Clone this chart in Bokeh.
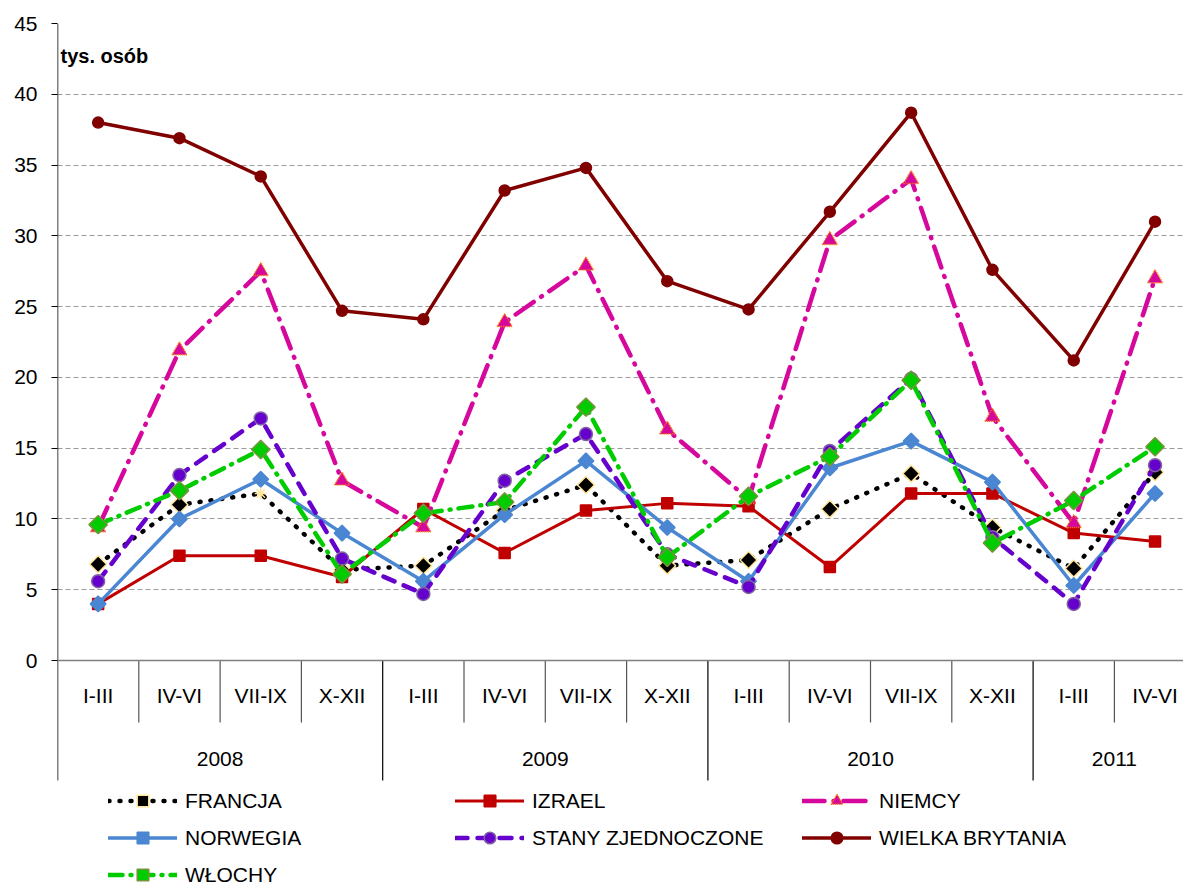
import math
from bokeh.plotting import figure
from bokeh.models import (Range1d, FixedTicker, Span, Label, Legend, LegendItem,
                          ColumnDataSource)
from bokeh.embed import file_html
from bokeh.resources import INLINE
from bokeh.core.properties import value

# ---------------- data ----------------
quarters = ["I-III", "IV-VI", "VII-IX", "X-XII",
            "I-III", "IV-VI", "VII-IX", "X-XII",
            "I-III", "IV-VI", "VII-IX", "X-XII",
            "I-III", "IV-VI"]
years = ["2008", "2009", "2010", "2011"]
year_counts = [4, 4, 4, 2]

francja = [6.8, 11.0, 11.8, 6.4, 6.7, 10.6, 12.4, 6.7, 7.1, 10.7, 13.2, 9.4, 6.5, 13.3]
izrael = [4.0, 7.4, 7.4, 5.9, 10.7, 7.6, 10.6, 11.1, 10.9, 6.6, 11.8, 11.8, 9.0, 8.4]
niemcy = [9.4, 21.9, 27.5, 12.7, 9.4, 23.9, 27.9, 16.3, 11.4, 29.7, 34.0, 17.2, 9.7, 27.0]
norwegia = [4.0, 10.0, 12.8, 9.0, 5.6, 10.3, 14.1, 9.4, 5.6, 13.6, 15.5, 12.6, 5.3, 11.8]
stany = [5.6, 13.1, 17.1, 7.2, 4.7, 12.7, 16.0, 7.5, 5.2, 14.8, 19.9, 8.7, 4.0, 13.8]
wielka_brytania = [38.0, 36.9, 34.2, 24.7, 24.1, 33.2, 34.8, 26.8, 24.8, 31.7, 38.7, 27.6, 21.2, 31.0]
wlochy = [9.6, 12.0, 14.9, 6.1, 10.4, 11.2, 17.9, 7.3, 11.6, 14.4, 19.8, 8.3, 11.3, 15.1]

series_names = ["FRANCJA", "IZRAEL", "NIEMCY", "NORWEGIA",
                "STANY ZJEDNOCZONE", "WIELKA BRYTANIA", "WŁOCHY"]
y_ticks = [0, 5, 10, 15, 20, 25, 30, 35, 40, 45]
unit_label = "tys. osób"

# ---------------- style ----------------
FONT = "Liberation Sans"
n = len(quarters)
fig_w, fig_h = 1183, 884
border_left, border_top = 57, 23
frame_w = fig_w - border_left
frame_h = fig_h - border_top
cat_px = 81.3
y_top = 45
px_per_unit = 637.0 / 45.0
y_frame_bottom = y_top - frame_h / px_per_unit
table_bottom = -120.0 / px_per_unit
quarter_sep_bottom = -62.0 / px_per_unit
quarter_label_y = -2.5
year_label_y = -6.97

styles = [
    dict(color="black", width=4.5, dash="1 10", marker="square", angle=math.pi / 4,
         size=12, fill="black", outline="#FFE699", odash="solid"),
    dict(color="#C00000", width=3, dash="solid", marker="square", angle=0,
         size=11, fill="#C00000", outline="#C00000", odash="solid"),
    dict(color="#D6079C", width=4.5, dash="22 9 1 9", marker="triangle", angle=0,
         size=15, fill="#D6079C", outline="#FF7A00", odash="1 1"),
    dict(color="#4A86D1", width=3.5, dash="solid", marker="square", angle=math.pi / 4,
         size=11, fill="#4A86D1", outline="#4A86D1", odash="solid"),
    dict(color="#6600CC", width=4.5, dash="12 10", marker="circle", angle=0,
         size=13, fill="#6600CC", outline="#8064A2", odash="solid"),
    dict(color="#800000", width=3.5, dash="solid", marker="circle", angle=0,
         size=11, fill="#800000", outline="#800000", odash="solid"),
    dict(color="#00CC00", width=4.5, dash="14 8 1 8", marker="square", angle=math.pi / 4,
         size=13, fill="#00CC00", outline="#77933C", odash="solid"),
]
series_values = [francja, izrael, niemcy, norwegia, stany, wielka_brytania, wlochy]

p = figure(width=fig_w, height=fig_h, output_backend="svg", toolbar_location=None,
           x_range=Range1d(-0.5, -0.5 + frame_w / cat_px),
           y_range=Range1d(y_frame_bottom, y_top),
           x_axis_location=None,
           min_border_left=border_left, min_border_right=0, min_border_top=border_top,
           min_border_bottom=0)
p.outline_line_color = None
p.background_fill_color = "white"
p.border_fill_color = "white"
p.xgrid.visible = False

yax = p.yaxis[0]
yax.ticker = FixedTicker(ticks=y_ticks)
yax.major_label_text_font = FONT
yax.major_label_text_font_size = "21px"
yax.major_label_text_color = "black"
yax.axis_line_color = None
yax.major_tick_line_color = "black"
yax.major_tick_out = 6
yax.major_tick_in = 0
yax.minor_tick_line_color = None
yax.major_label_standoff = 14

p.ygrid.ticker = FixedTicker(ticks=[t for t in y_ticks if t > 0])
p.ygrid.grid_line_color = "#9A9A9A"
p.ygrid.grid_line_dash = "5 3"
p.ygrid.grid_line_width = 1

# vertical value axis line (down through the category table)
p.segment(x0=[-0.5], y0=[table_bottom], x1=[-0.5], y1=[y_top],
          line_color="black", line_width=1.5)
# horizontal category axis line at zero
p.add_layout(Span(location=0, dimension="width", line_color="#808080", line_width=1.5))

# category table separators
xs = list(range(n))
bounds = [k - 0.5 for k in range(1, n)]
year_bounds = []
acc = 0
for c in year_counts[:-1]:
    acc += c
    year_bounds.append(acc - 0.5)
q_bounds = [b for b in bounds if b not in year_bounds]
p.segment(x0=q_bounds, y0=[0] * len(q_bounds), x1=q_bounds,
          y1=[quarter_sep_bottom] * len(q_bounds), line_color="#555555", line_width=1.2)
p.segment(x0=year_bounds, y0=[0] * len(year_bounds), x1=year_bounds,
          y1=[table_bottom] * len(year_bounds), line_color="black", line_width=1.2)

p.text(x=xs, y=[quarter_label_y] * n, text=quarters, text_align="center",
       text_baseline="middle", text_font=value(FONT), text_font_size="21px",
       text_color="black")
year_x = []
start = 0
for c in year_counts:
    year_x.append(start + (c - 1) / 2)
    start += c
p.text(x=year_x, y=[year_label_y] * len(years), text=years, text_align="center",
       text_baseline="middle", text_font=value(FONT), text_font_size="21px",
       text_color="black")

# series
items = []
for name, vals, st in zip(series_names, series_values, styles):
    markers = [st["marker"]] * n
    fills = [st["fill"]] * n
    lines_c = [st["outline"]] * n
    if name == "FRANCJA":
        markers[2] = "asterisk"
        fills[2] = "#FFE699"
        lines_c[2] = "#FFE699"
    src = ColumnDataSource(dict(x=xs, y=vals, m=markers, f=fills, lc=lines_c))
    r1 = p.line("x", "y", source=src, line_color=st["color"], line_width=st["width"],
                line_dash=st["dash"], line_cap="round", line_join="round")
    r2 = p.scatter("x", "y", source=src, marker="m", size=st["size"], angle=st["angle"],
                   fill_color="f", line_color="lc", line_width=1.5,
                   line_dash=st["odash"])
    items.append(LegendItem(label=name, renderers=[r1, r2]))

legend = Legend(items=items, orientation="horizontal", ncols=3,
                location=(51, -5), margin=0, padding=0,
                glyph_width=69, glyph_height=29, label_height=29,
                label_width=262, label_standoff=8, spacing=8,
                label_text_font=FONT, label_text_font_size="21px",
                label_text_color="black",
                background_fill_alpha=0, border_line_alpha=0)
p.add_layout(legend, "center")

p.add_layout(Label(x=-0.5, y=42.7, x_offset=3, text=unit_label,
                   text_font=FONT, text_font_size="20px", text_font_style="bold",
                   text_baseline="middle", text_color="black"))

open("out.html", "w").write(file_html(p, INLINE))
